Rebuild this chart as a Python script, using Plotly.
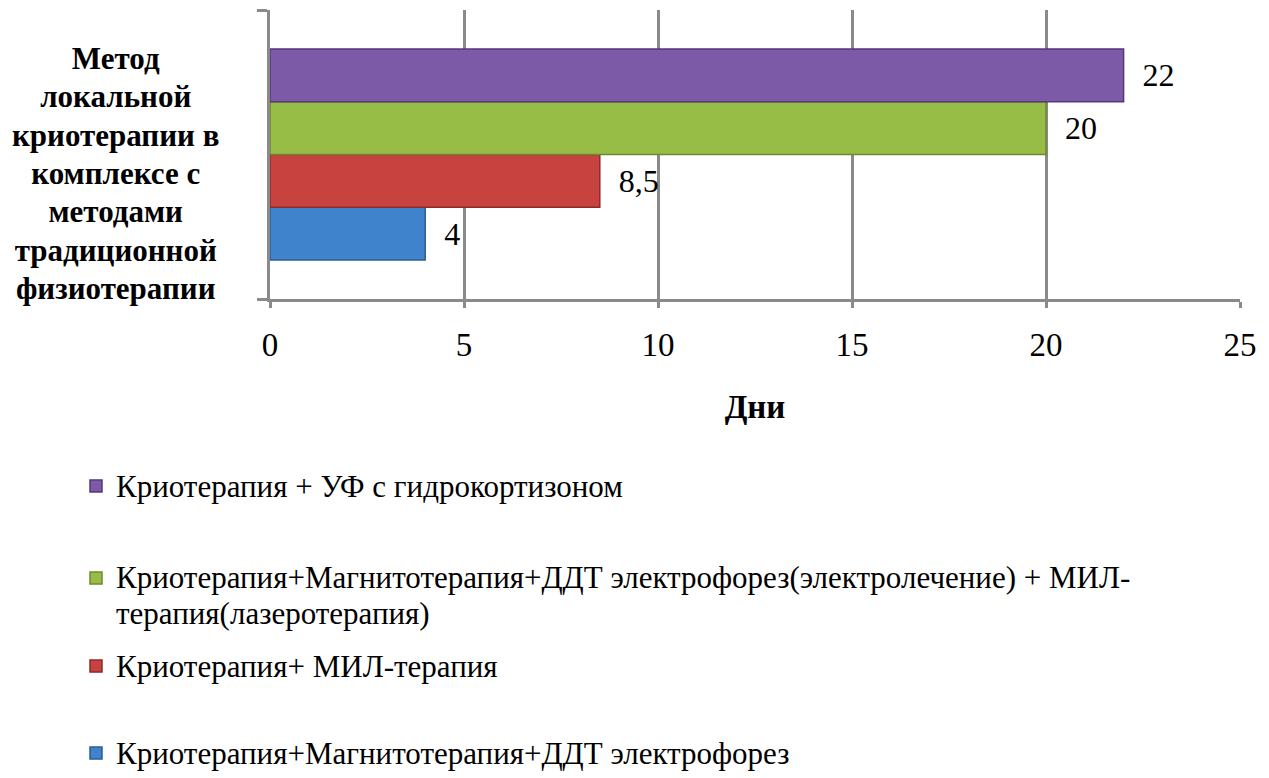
import plotly.graph_objects as go

category = "Метод локальной криотерапии в комплексе с методами традиционной физиотерапии"
category_lines = ["Метод", "локальной", "криотерапии в", "комплексе с", "методами", "традиционной", "физиотерапии"]

series_names = [
    "Криотерапия+Магнитотерапия+ДДТ электрофорез",
    "Криотерапия+ МИЛ-терапия",
    "Криотерапия+Магнитотерапия+ДДТ электрофорез(электролечение) + МИЛ-<br>терапия(лазеротерапия)",
    "Криотерапия + УФ с гидрокортизоном",
]
series_values = [4, 8.5, 20, 22]
series_colors = ["#3f83cc", "#c8433f", "#98bd47", "#7c5aa7"]
series_edges = ["#2a5d94", "#8e2a27", "#6c8a2c", "#56397a"]

x_ticks = [0, 5, 10, 15, 20, 25]
x_title = "Дни"

SERIF = "Liberation Serif"
LEGEND_SIZE = 31

# legend slot for each series (top of list = top of legend)
legend_ids = ["legend4", "legend3", "legend2", "legend"]
legend_tops = {"legend": -0.564, "legend2": -0.882, "legend3": -1.187, "legend4": -1.488}


def legend_label(name):
    # keep glyph size, tighten line spacing of wrapped entries
    return "<br>".join(f'<span style="font-size:{LEGEND_SIZE}px">{part}</span>' for part in name.split("<br>"))


fig = go.Figure()
for name, val, col, edge, lid in zip(series_names, series_values, series_colors, series_edges, legend_ids):
    fig.add_trace(go.Bar(
        y=[category], x=[val], name=legend_label(name), orientation="h",
        marker=dict(color=col, line=dict(color=edge, width=1.5)),
        text=["\u00a0\u00a0" + str(val).replace(".", ",")],
        textposition="outside", cliponaxis=False,
        textfont=dict(family=SERIF, size=32, color="black"),
        legend=lid,
    ))

label_html = "<br>".join(f'<span style="font-size:31px">{l}</span>' for l in category_lines)

legend_common = dict(
    x=-0.200, xanchor="left", yanchor="top", valign="top",
    font=dict(family=SERIF, size=27, color="black"),
    itemwidth=30, bgcolor="rgba(0,0,0,0)",
)

fig.update_layout(
    width=1269, height=778,
    margin=dict(l=270, r=29, t=10, b=479, autoexpand=False),
    paper_bgcolor="white", plot_bgcolor="white",
    barmode="group", bargap=0.27, bargroupgap=0,
    showlegend=True,
    legend=dict(y=legend_tops["legend"], **legend_common),
    legend2=dict(y=legend_tops["legend2"], **legend_common),
    legend3=dict(y=legend_tops["legend3"], **legend_common),
    legend4=dict(y=legend_tops["legend4"], **legend_common),
    xaxis=dict(
        range=[0, 25], tickvals=x_ticks, ticktext=[str(t) for t in x_ticks],
        showgrid=True, gridcolor="#8a8a8a", gridwidth=3,
        showline=True, linecolor="#8a8a8a", linewidth=3,
        ticks="outside", ticklen=6, tickwidth=3, tickcolor="#8a8a8a",
        tickfont=dict(family=SERIF, size=33, color="black"),
        ticklabelstandoff=8,
        zeroline=False, automargin=False,
        title=dict(text="<b>" + x_title + "</b>", font=dict(family=SERIF, size=33, color="black"), standoff=34),
    ),
    yaxis=dict(
        showticklabels=False, tickson="boundaries",
        showline=True, linecolor="#8a8a8a", linewidth=3,
        ticks="outside", ticklen=10, tickwidth=3, tickcolor="#8a8a8a",
        showgrid=False, range=[-0.5, 0.5], automargin=False,
    ),
    annotations=[dict(
        text="<b>" + label_html + "</b>", xref="paper", yref="paper",
        x=-0.159, y=0.433, xanchor="center", yanchor="middle", align="center",
        showarrow=False, font=dict(family=SERIF, size=29.5, color="black"),
    )],
)

fig.write_html("out.html")
